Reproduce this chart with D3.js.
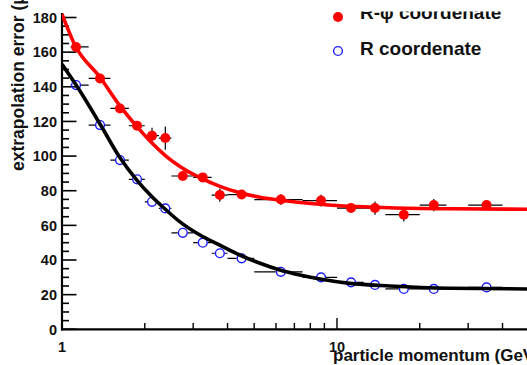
<!DOCTYPE html>
<html><head><meta charset="utf-8">
<script src="https://cdn.jsdelivr.net/npm/d3@7"></script>
<style>
html,body{margin:0;padding:0;background:#fff;}
svg{display:block;font-family:"Liberation Sans",Arial,sans-serif;font-weight:bold;}
</style></head>
<body>
<script>
// ---- data ----
const momentum = [1.125, 1.375, 1.625, 1.875, 2.125, 2.375, 2.75, 3.25, 3.75, 4.5, 6.25, 8.75, 11.25, 13.75, 17.5, 22.5, 35];
const binLow   = [1.075, 1.25, 1.5, 1.75, 2.0, 2.25, 2.5, 3.0, 3.5, 4.0, 5.0, 7.5, 10, 12.5, 15, 20, 30];
const binHigh  = [1.25, 1.5, 1.75, 2.0, 2.25, 2.5, 3.0, 3.5, 4.0, 5.0, 7.5, 10, 12.5, 15, 20, 25, 40];
const rphiError = [163, 144.8, 127.5, 117.5, 111.8, 110.4, 88.5, 87.7, 77.5, 77.8, 74.9, 74.3, 70, 70, 66.2, 71.7, 71.7];
const rphiErrY  = [2, 2, 2, 2, 4.6, 6.7, 2, 2, 3.8, 2, 3, 3.4, 2.3, 3.8, 4, 3.5, 2.5];
const rError    = [141, 117.9, 97.7, 86.6, 73.6, 69.8, 55.7, 50, 43.9, 41, 33.2, 30, 27.1, 25.6, 23.3, 23.3, 24.2];
const rErrY     = [1.5, 1.5, 1.5, 1.5, 1.5, 1.5, 1.5, 1.5, 1.5, 1.5, 1.5, 1.5, 1.5, 1.5, 1.5, 1.5, 1.5];
const fitMomentum = [1, 1.115, 1.375, 1.625, 1.874, 2.125, 2.387, 2.686, 3.175, 3.75, 4.43, 5.25, 6.2, 7.33, 8.67, 11.12, 15.57, 25.7, 49.1];
const rphiFit     = [182, 164, 145.5, 129, 117, 107.5, 100, 94, 87.5, 82.5, 78.8, 76.2, 74.5, 73.2, 72.2, 71, 70.2, 69.6, 69.3];
const rFit        = [153, 142, 118.5, 99, 86, 76.5, 69, 62, 54.4, 48.6, 42.9, 38.1, 34.2, 31.3, 29, 26.5, 25, 23.7, 23.3];
const yTicks = [0, 20, 40, 60, 80, 100, 120, 140, 160, 180];
const xMajor = [1, 10];
const xMinor = [2, 3, 4, 5, 6, 7, 8, 9, 20, 30, 40];
const legendLabels = ["R-\u03c6 coordenate", "R coordenate"];
const xTitle = "particle momentum (GeV/c)";
const yTitle = "extrapolation error (\u03bcm)";

// ---- layout ----
const W = 527, H = 365;
const x = d3.scaleLog().domain([1, 49.1]).range([62, 527]);
const y = d3.scaleLinear().domain([0, 180]).range([329.3, 17.5]);
const yTop = 13;

const svg = d3.select("body").append("svg").attr("width", W).attr("height", H);
const defs = svg.append("defs");
defs.append("clipPath").attr("id", "plot").append("rect")
  .attr("x", 62).attr("y", yTop).attr("width", W - 62).attr("height", 329.3 - yTop);
defs.append("clipPath").attr("id", "legclip").append("rect")
  .attr("x", 350).attr("y", 11.5).attr("width", 177).attr("height", 60);

// axes
const g = svg.append("g");
const yMinor = d3.range(0, 185, 5).filter(v => v % 20 !== 0 && y(v) >= yTop);
g.selectAll(".ymin").data(yMinor).join("line")
  .attr("x1", 62).attr("x2", 69).attr("y1", d => y(d)).attr("y2", d => y(d))
  .attr("stroke", "#000").attr("stroke-width", 1.6);
g.selectAll(".ymaj").data(yTicks).join("line")
  .attr("x1", 62).attr("x2", 76.5).attr("y1", d => y(d)).attr("y2", d => y(d))
  .attr("stroke", "#000").attr("stroke-width", 1.6);
g.selectAll(".ylab").data(yTicks).join("text")
  .attr("x", 57).attr("y", d => y(d)).attr("dy", "0.36em")
  .attr("text-anchor", "end").attr("font-size", 14.5).attr("fill", "#111")
  .text(d => d);
g.selectAll(".xmin").data(xMinor).join("line")
  .attr("x1", d => x(d)).attr("x2", d => x(d)).attr("y1", 329.3).attr("y2", 323)
  .attr("stroke", "#000").attr("stroke-width", 1.4);
g.selectAll(".xmaj").data(xMajor).join("line")
  .attr("x1", d => x(d)).attr("x2", d => x(d)).attr("y1", 329.3).attr("y2", 318)
  .attr("stroke", "#000").attr("stroke-width", 1.4);
g.selectAll(".xlab").data(xMajor).join("text")
  .attr("x", d => x(d)).attr("y", 351.5)
  .attr("text-anchor", "middle").attr("font-size", 14.5).attr("fill", "#111")
  .text(d => d);
g.append("line").attr("x1", 62).attr("x2", 62).attr("y1", yTop).attr("y2", 330.5)
  .attr("stroke", "#000").attr("stroke-width", 2.2);
g.append("line").attr("x1", 61).attr("x2", W).attr("y1", 329.3).attr("y2", 329.3)
  .attr("stroke", "#000").attr("stroke-width", 2.2);

// titles
svg.append("text").attr("transform", "translate(23.5,171) rotate(-90)")
  .attr("text-anchor", "start").attr("font-size", 17.5).attr("fill", "#111").text(yTitle);
svg.append("text").attr("x", 333).attr("y", 361)
  .attr("text-anchor", "start").attr("font-size", 17).attr("fill", "#111").text(xTitle);

// data
const plot = svg.append("g").attr("clip-path", "url(#plot)");
const R = 5;
function errorBars(vals, errs, hollow) {
  const eg = plot.append("g").attr("stroke", "#000").attr("stroke-width", 1.2);
  momentum.forEach((m, i) => {
    const cx = x(m), cy = y(vals[i]);
    const gap = hollow ? R : 0;
    const xl = x(binLow[i]), xh = x(binHigh[i]);
    if (cx - gap > xl) eg.append("line").attr("x1", xl).attr("x2", cx - gap).attr("y1", cy).attr("y2", cy);
    if (xh > cx + gap) eg.append("line").attr("x1", cx + gap).attr("x2", xh).attr("y1", cy).attr("y2", cy);
    const yt = y(vals[i] + errs[i]), yb = y(vals[i] - errs[i]);
    if (cy - gap > yt) eg.append("line").attr("x1", cx).attr("x2", cx).attr("y1", yt).attr("y2", cy - gap);
    if (yb > cy + gap) eg.append("line").attr("x1", cx).attr("x2", cx).attr("y1", cy + gap).attr("y2", yb);
  });
}
errorBars(rphiError, rphiErrY, false);
errorBars(rError, rErrY, true);

plot.append("g").selectAll("circle").data(momentum).join("circle")
  .attr("cx", d => x(d)).attr("cy", (d, i) => y(rphiError[i])).attr("r", R)
  .attr("fill", "#ff0000");
plot.append("g").selectAll("circle").data(momentum).join("circle")
  .attr("cx", d => x(d)).attr("cy", (d, i) => y(rError[i])).attr("r", R - 0.6)
  .attr("fill", "none").attr("stroke", "#1a1aff").attr("stroke-width", 1.4);

const line = d3.line().x(d => x(d[0])).y(d => y(d[1])).curve(d3.curveMonotoneX);
plot.append("path").datum(fitMomentum.map((m, i) => [m, rphiFit[i]]))
  .attr("d", line).attr("fill", "none").attr("stroke", "#ff0000").attr("stroke-width", 3.6);
plot.append("path").datum(fitMomentum.map((m, i) => [m, rFit[i]]))
  .attr("d", line).attr("fill", "none").attr("stroke", "#000").attr("stroke-width", 3.6);

// legend
svg.append("circle").attr("cx", 338).attr("cy", 17).attr("r", 5).attr("fill", "#ff0000");
svg.append("circle").attr("cx", 338).attr("cy", 51).attr("r", 4.4)
  .attr("fill", "none").attr("stroke", "#1a1aff").attr("stroke-width", 1.4);
svg.append("g").attr("clip-path", "url(#legclip)")
  .selectAll("text").data(legendLabels).join("text")
  .attr("x", 360).attr("y", (d, i) => i === 0 ? 18.5 : 55)
  .attr("font-size", 19).attr("fill", "#111").text(d => d);
</script>
</body></html>
